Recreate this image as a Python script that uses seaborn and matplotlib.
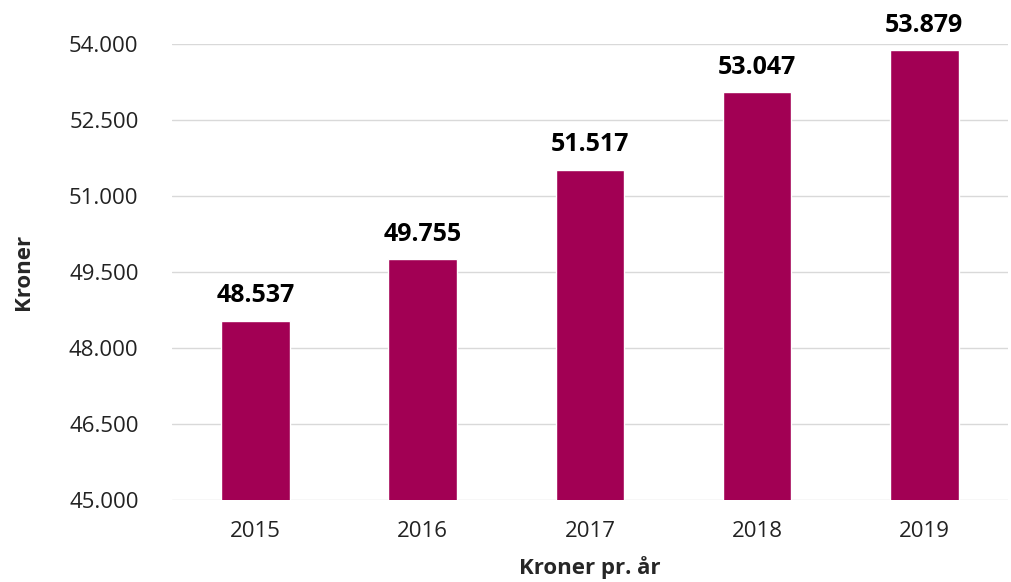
import matplotlib
matplotlib.use("Agg")
import matplotlib.pyplot as plt
import seaborn as sns
import pandas as pd
from matplotlib.ticker import FuncFormatter

# data
aar = ["2015", "2016", "2017", "2018", "2019"]
kroner = [48537, 49755, 51517, 53047, 53879]
y_ticks = [45000, 46500, 48000, 49500, 51000, 52500, 54000]

df = pd.DataFrame({"aar": aar, "kroner": kroner})

sns.set_theme(style="white")
plt.rcParams["font.family"] = ["Open Sans", "DejaVu Sans"]

fig = plt.figure(figsize=(10.11, 5.82), dpi=100)
ax = fig.add_axes([0.170, 0.141, 0.827, 0.783])

sns.barplot(data=df, x="aar", y="kroner", color="#A20054", width=0.41,
            saturation=1, ax=ax, zorder=3)

ax.set_ylim(45000, 54000)
ax.set_yticks(y_ticks)
ax.yaxis.set_major_formatter(FuncFormatter(lambda v, p: f"{v:,.0f}".replace(",", ".")))
ax.grid(axis="y", color="#d9d9d9", linewidth=1, zorder=0)
for s in ax.spines.values():
    s.set_visible(False)
ax.tick_params(axis="both", length=0, labelsize=16, colors="#222222")
ax.tick_params(axis="x", pad=15)
ax.tick_params(axis="y", pad=24)

for i, v in enumerate(kroner):
    ax.text(i, v + 250, f"{v:,}".replace(",", "."), ha="center", va="bottom",
            fontsize=18, fontweight="bold", color="black", clip_on=False)

ax.set_xlabel("Kroner pr. år", fontsize=16, fontweight="bold", labelpad=10)
ax.set_ylabel("Kroner", fontsize=16, fontweight="bold")
ax.yaxis.set_label_coords(-0.165, 0.5)

fig.savefig("out.png", dpi=100)
